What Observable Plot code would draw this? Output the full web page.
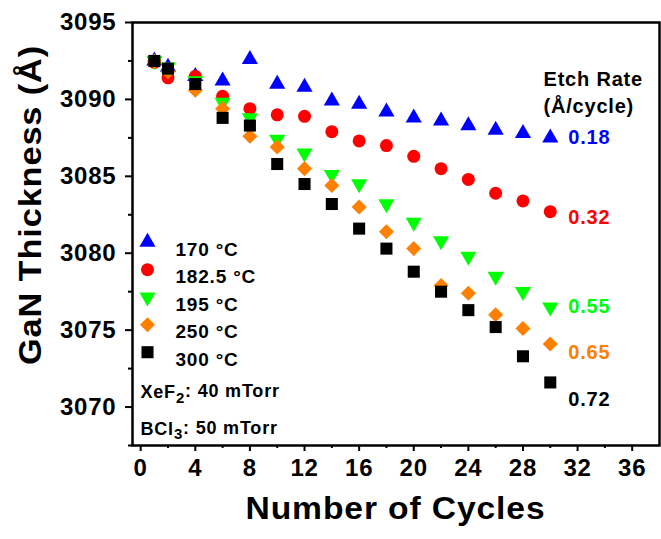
<!DOCTYPE html>
<html>
<head>
<meta charset="utf-8">
<script src="https://cdn.jsdelivr.net/npm/d3@7"></script>
<script src="https://cdn.jsdelivr.net/npm/@observablehq/plot@0.6"></script>
<style>
  html, body { margin: 0; padding: 0; background: #fff; overflow: hidden; }
  svg text { letter-spacing: 0.8px; }
</style>
</head>
<body>
<script>
// ---- data ----
const cycles = [1, 2, 4, 6, 8, 10, 12, 14, 16, 18, 20, 22, 24, 26, 28, 30];
const t170  = [3092.5, 3092.1, 3091.5, 3091.2, 3092.6, 3091.0, 3090.8, 3089.9, 3089.7, 3089.2, 3088.8, 3088.6, 3088.3, 3088.0, 3087.8, 3087.5];
const t1825 = [3092.4, 3091.4, 3091.5, 3090.2, 3089.4, 3089.0, 3088.9, 3087.9, 3087.3, 3087.0, 3086.3, 3085.5, 3084.8, 3083.9, 3083.4, 3082.7];
const t195  = [3092.5, 3092.1, 3091.2, 3089.8, 3088.8, 3087.4, 3086.5, 3085.1, 3084.5, 3083.2, 3082.0, 3080.8, 3079.8, 3078.5, 3077.5, 3076.5];
const t250  = [3092.5, 3091.8, 3090.6, 3089.4, 3087.6, 3086.9, 3085.5, 3084.4, 3083.0, 3081.4, 3080.3, 3077.9, 3077.4, 3076.0, 3075.1, 3074.1];
const t300  = [3092.5, 3092.0, 3091.0, 3088.8, 3088.3, 3085.8, 3084.5, 3083.2, 3081.6, 3080.3, 3078.8, 3077.5, 3076.3, 3075.2, 3073.3, 3071.6];
const seriesNames = ["170 °C", "182.5 °C", "195 °C", "250 °C", "300 °C"];
const etchRates = ["0.18", "0.32", "0.55", "0.65", "0.72"];
const xMajorTicks = [0, 4, 8, 12, 16, 20, 24, 28, 32, 36];
const xMinorTicks = [2, 6, 10, 14, 18, 22, 26, 30, 34];
const yMajorTicks = [3070, 3075, 3080, 3085, 3090, 3095];
const yMinorTicks = [3067.5, 3072.5, 3077.5, 3082.5, 3087.5, 3092.5];
const conditions = ["XeF₂: 40 mTorr", "BCl₃: 50 mTorr"];

// ---- styles ----
const downTriangle = {draw(ctx, size) {
  const y = -Math.sqrt(size / (Math.sqrt(3) * 3));
  ctx.moveTo(0, -y * 2); ctx.lineTo(-Math.sqrt(3) * y, y); ctx.lineTo(Math.sqrt(3) * y, y); ctx.closePath();
}};
const diamondSq = {draw(ctx, size) {
  const r = Math.sqrt(size) * 0.7071;
  ctx.moveTo(0, -r); ctx.lineTo(r, 0); ctx.lineTo(0, r); ctx.lineTo(-r, 0); ctx.closePath();
}};
const styles = [
  {color: "#0000FF", symbol: "triangle", r: 6.0, rateDy: 0},
  {color: "#FF0000", symbol: "circle", r: 6.5, rateDy: 6},
  {color: "#00FF00", symbol: downTriangle, r: 6.0, rateDy: 0},
  {color: "#FF7F00", symbol: diamondSq, r: 6.0, rateDy: 9},
  {color: "#000000", symbol: "square", r: 6.8, rateDy: 17}
];

const allValues = [t170, t1825, t195, t250, t300];
const tables = allValues.map((vals, i) => cycles.map((c, j) => ({cycle: c, thickness: vals[j], series: seriesNames[i]})));

const font = "'Liberation Sans', Arial, sans-serif";
const marks = [
  Plot.axisX({ticks: xMajorTicks, tickSize: 6, tickPadding: 7, fontSize: 24, fontWeight: "bold", strokeWidth: 2, tickFormat: d3.format("d"), label: null}),
  Plot.axisX({ticks: xMinorTicks, tickSize: 3, strokeWidth: 2, tickFormat: () => "", label: null}),
  Plot.axisY({ticks: yMajorTicks, tickSize: 7, tickPadding: 9, fontSize: 24, fontWeight: "bold", strokeWidth: 2, tickFormat: d3.format("d"), label: null}),
  Plot.axisY({ticks: yMinorTicks, tickSize: 4, strokeWidth: 2, tickFormat: () => "", label: null})
];

tables.forEach((tbl, i) => {
  const s = styles[i];
  marks.push(Plot.dot(tbl, {x: "cycle", y: "thickness", symbol: s.symbol, fill: s.color, r: s.r, stroke: null}));
});

// etch-rate labels beside the last point of each series
tables.forEach((tbl, i) => {
  const s = styles[i];
  const last = tbl[tbl.length - 1];
  marks.push(Plot.text([last], {x: "cycle", y: "thickness", text: () => etchRates[i], dx: 18, dy: s.rateDy,
    textAnchor: "start", fill: s.color, fontSize: 20, fontWeight: "bold"}));
});

// legend inside the frame
seriesNames.forEach((name, i) => {
  const s = styles[i];
  const dy = 219.7 + i * 27.5;
  marks.push(Plot.dot([name], {frameAnchor: "top-left", dx: 15, dy, symbol: s.symbol, fill: s.color, r: s.r, stroke: null}));
  marks.push(Plot.text([name], {frameAnchor: "top-left", dx: 43, dy, text: d => d, textAnchor: "start", fontSize: 19, fontWeight: "bold", fill: "black"}));
});
conditions.forEach((c, i) => {
  marks.push(Plot.text([c], {frameAnchor: "top-left", dx: 8, dy: 363 + i * 36.5, text: d => d, textAnchor: "start", fontSize: 18, fontWeight: "bold", fill: "black"}));
});

// Etch Rate heading
marks.push(Plot.text(["Etch Rate"], {frameAnchor: "top-right", dx: -116, dy: 49.7, text: d => d, textAnchor: "start", fontSize: 20, fontWeight: "bold", fill: "black"}));
marks.push(Plot.text(["(Å/cycle)"], {frameAnchor: "top-right", dx: -116, dy: 76, text: d => d, textAnchor: "start", fontSize: 20, fontWeight: "bold", fill: "black"}));

// axis titles
marks.push(Plot.text(["Number of Cycles"], {frameAnchor: "bottom-left", dx: 113, dy: 73, text: d => d, textAnchor: "start", fontSize: 31, fontWeight: "bold", fill: "black"}));
marks.push(Plot.text(["GaN Thickness (Å)"], {frameAnchor: "left", dx: -101, dy: 131, rotate: -90, text: d => d, textAnchor: "start", fontSize: 31, fontWeight: "bold", fill: "black"}));

marks.push(Plot.frame({stroke: "black", strokeWidth: 2.5}));

const chart = Plot.plot({
  width: 661,
  height: 539,
  marginLeft: 132,
  marginRight: 2,
  marginTop: 22,
  marginBottom: 94,
  x: {domain: [-0.6, 38]},
  y: {domain: [3067.5, 3095]},
  style: {fontFamily: font, background: "white", color: "black", overflow: "visible"},
  marks
});
document.body.appendChild(chart);

// stretch the axis titles to the reference width; render chemical subscripts
const subs = {"₂": "2", "₃": "3"};
d3.select(chart).selectAll("text").each(function() {
  const t = this.textContent;
  if (t === "Number of Cycles") { this.setAttribute("textLength", 300); this.setAttribute("lengthAdjust", "spacingAndGlyphs"); }
  if (t === "GaN Thickness (Å)") { this.setAttribute("textLength", 320); this.setAttribute("lengthAdjust", "spacingAndGlyphs"); }
  const m = t.match(/^(.*?)([₂₃])(.*)$/);
  if (m) {
    const sel = d3.select(this);
    sel.text(null);
    sel.append("tspan").text(m[1]);
    sel.append("tspan").attr("dy", "0.3em").attr("font-size", "15").text(subs[m[2]]);
    sel.append("tspan").attr("dy", "-0.3em").text(m[3]);
  }
});
</script>
</body>
</html>
